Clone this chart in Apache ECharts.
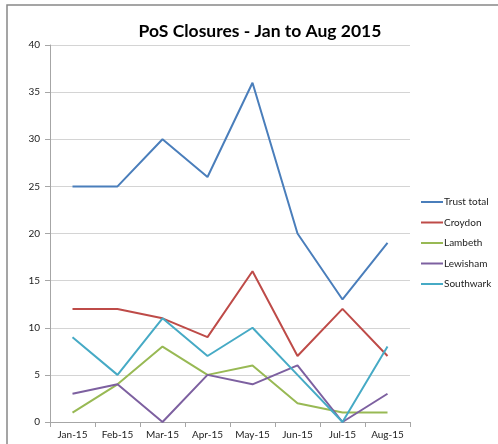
<!DOCTYPE html>
<html>
<head>
<meta charset="utf-8">
<script src="https://cdn.jsdelivr.net/npm/echarts@6/dist/echarts.min.js"></script>
<style>
  html, body { margin: 0; padding: 0; background: #fff; }
  #chart { width: 498px; height: 444px; }
</style>
</head>
<body>
<div id="chart"></div>
<script>
// data
var months = ['Jan-15', 'Feb-15', 'Mar-15', 'Apr-15', 'May-15', 'Jun-15', 'Jul-15', 'Aug-15'];
var trustTotal = [25, 25, 30, 26, 36, 20, 13, 19];
var croydon    = [12, 12, 11, 9, 16, 7, 12, 7];
var lambeth    = [1, 4, 8, 5, 6, 2, 1, 1];
var lewisham   = [3, 4, 0, 5, 4, 6, 0, 3];
var southwark  = [9, 5, 11, 7, 10, 5, 0, 8];

var font = 'Lato, "Open Sans", sans-serif';

function line(name, data, color) {
    return {
        name: name,
        type: 'line',
        data: data,
        color: color,
        symbol: 'none',
        lineStyle: { width: 2 }
    };
}

var chart = echarts.init(document.getElementById('chart'));
var option = {
    animation: false,
    title: {
        text: 'PoS Closures - Jan to Aug 2015',
        left: 255,
        textAlign: 'center',
        top: 17,
        textStyle: { fontFamily: font, fontSize: 17.5, fontWeight: 'bold', color: '#000' }
    },
    legend: {
        orient: 'vertical',
        left: 421,
        top: 196,
        padding: 0,
        icon: 'rect',
        itemWidth: 22,
        itemHeight: 2,
        itemGap: 8.5,
        textStyle: { fontFamily: font, fontSize: 10, color: '#222', padding: [0, 0, 0, -4], lineHeight: 12 }
    },
    grid: { left: 50, right: 88, top: 45, bottom: 22 },
    xAxis: {
        type: 'category',
        data: months,
        boundaryGap: true,
        axisLine: { lineStyle: { color: '#a6a6a6' } },
        axisTick: { show: true, length: 5, lineStyle: { color: '#a6a6a6' } },
        axisLabel: { fontFamily: font, fontSize: 10, color: '#222', margin: 8 }
    },
    yAxis: {
        type: 'value',
        min: 0,
        max: 40,
        interval: 5,
        axisLine: { show: true, lineStyle: { color: '#a6a6a6' } },
        axisTick: { show: true, length: 5, lineStyle: { color: '#a6a6a6' } },
        axisLabel: { fontFamily: font, fontSize: 10, color: '#222', margin: 10 },
        splitLine: { lineStyle: { color: '#d4d4d4' } }
    },
    graphic: [{
        type: 'polyline',
        shape: { points: [[7, 444], [7, 5], [498, 5]] },
        style: { stroke: '#888', lineWidth: 1.5, fill: null }
    }],
    series: [
        line('Trust total', trustTotal, '#4a7ebb'),
        line('Croydon', croydon, '#be4b48'),
        line('Lambeth', lambeth, '#98b954'),
        line('Lewisham', lewisham, '#7d60a0'),
        line('Southwark', southwark, '#46aac5')
    ]
};
chart.setOption(option);
</script>
</body>
</html>
